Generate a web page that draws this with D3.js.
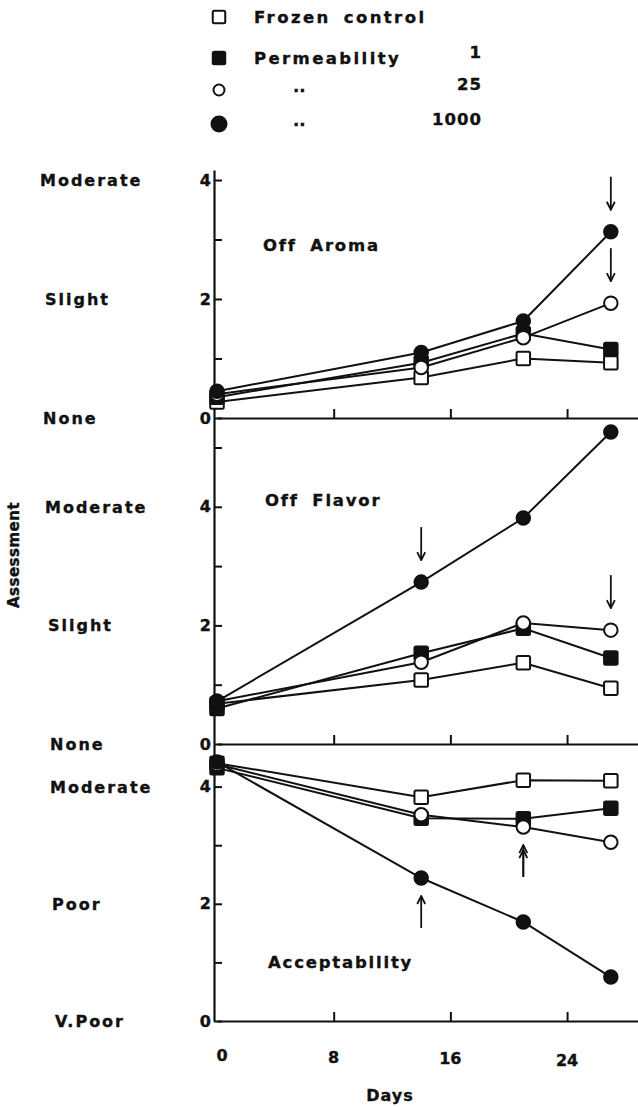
<!DOCTYPE html>
<html>
<head>
<meta charset="utf-8">
<script src="https://cdn.jsdelivr.net/npm/d3@7"></script>
<style>
  html, body { margin: 0; padding: 0; background: #fff; }
  svg { display: block; }
  text { font-family: "DejaVu Sans", sans-serif; font-weight: bold; fill: #111; stroke: #111; stroke-width: 0.35; }
</style>
</head>
<body>
<svg id="chart" width="638" height="1107"></svg>
<script>
// Storage days
const days = [0, 14, 21, 27];

// Off aroma scores
const aromaControl = [0.27, 0.68, 1.0, 0.93];
const aromaPerm1 = [0.35, 0.93, 1.42, 1.15];
const aromaPerm25 = [0.4, 0.85, 1.35, 1.93];
const aromaPerm1000 = [0.45, 1.1, 1.63, 3.13];

// Off flavor scores
const flavorControl = [0.68, 1.08, 1.37, 0.94];
const flavorPerm1 = [0.6, 1.53, 1.95, 1.45];
const flavorPerm25 = [0.72, 1.38, 2.04, 1.92];
const flavorPerm1000 = [0.72, 2.73, 3.81, 5.26];

// Acceptability scores
const acceptControl = [4.4, 3.82, 4.11, 4.1];
const acceptPerm1 = [4.32, 3.46, 3.45, 3.63];
const acceptPerm25 = [4.38, 3.52, 3.31, 3.05];
const acceptPerm1000 = [4.42, 2.44, 1.69, 0.75];

// Legend / series labels
const seriesNames = ["Frozen control", "Permeability", "..", ".."];
const seriesPerm = ["", "1", "25", "1000"];

// Axis labels
const xTicks = [0, 8, 16, 24];
const aromaLevels = ["None", "Slight", "Moderate"];
const flavorLevels = ["None", "Slight", "Moderate"];
const acceptLevels = ["V.Poor", "Poor", "Moderate"];
const levelValues = [0, 2, 4];

const svg = d3.select("#chart");
const ink = "#111";

const x = d3.scaleLinear().domain([0, 29]).range([217, 640]);

const markers = [
  { shape: "square", filled: false },
  { shape: "square", filled: true },
  { shape: "circle", filled: false },
  { shape: "circle", filled: true }
];

const panels = [
  { title: "Off Aroma", titleX: 263, titleY: 251, bottom: 418, top: 170, unit: 59.5,
    levels: aromaLevels, tickMax: 4,
    series: [aromaControl, aromaPerm1, aromaPerm25, aromaPerm1000],
    labelX: [43, 45, 40],
    arrows: [ { day: 27, s: 3, dir: "down" }, { day: 27, s: 2, dir: "down" } ] },
  { title: "Off Flavor", titleX: 265, titleY: 506, bottom: 744, top: 418, unit: 59.3,
    levels: flavorLevels, tickMax: 5,
    series: [flavorControl, flavorPerm1, flavorPerm25, flavorPerm1000],
    labelX: [50, 48, 45],
    arrows: [ { day: 14, s: 3, dir: "down" }, { day: 27, s: 2, dir: "down" } ] },
  { title: "Acceptability", titleX: 268, titleY: 968, bottom: 1021, top: 744, unit: 58.6,
    levels: acceptLevels, tickMax: 4,
    series: [acceptControl, acceptPerm1, acceptPerm25, acceptPerm1000],
    labelX: [55, 52, 50],
    arrows: [ { day: 14, s: 3, dir: "up" }, { day: 21, s: 2, dir: "up", double: true } ] }
];

// arrowhead markers
const defs = svg.append("defs");
defs.append("marker")
  .attr("id", "head")
  .attr("viewBox", "0 0 10 10")
  .attr("refX", 9).attr("refY", 5)
  .attr("markerWidth", 10).attr("markerHeight", 10)
  .attr("markerUnits", "userSpaceOnUse")
  .attr("orient", "auto")
  .append("path")
  .attr("d", "M1,1 L9,5 L1,9")
  .attr("fill", "none").attr("stroke", ink).attr("stroke-width", 1.8);

function drawMarker(g, cx, cy, m, size) {
  const fill = m.filled ? ink : "#fff";
  if (m.shape === "square") {
    g.append("rect")
      .attr("x", cx - size / 2).attr("y", cy - size / 2)
      .attr("width", size).attr("height", size)
      .attr("rx", 1.5)
      .attr("fill", fill).attr("stroke", ink).attr("stroke-width", 2);
  } else {
    g.append("circle")
      .attr("cx", cx).attr("cy", cy).attr("r", size / 2)
      .attr("fill", fill).attr("stroke", ink).attr("stroke-width", 2);
  }
}

panels.forEach(p => {
  const yMax = (p.bottom - p.top) / p.unit;
  const y = d3.scaleLinear().domain([0, yMax]).range([p.bottom, p.top]);
  const g = svg.append("g");

  // x axis with inward ticks
  const xAxis = d3.axisBottom(x).tickValues([8, 16, 24]).tickSizeInner(-9).tickSizeOuter(0).tickFormat("");
  const xa = g.append("g").attr("transform", `translate(0,${p.bottom})`).call(xAxis);
  xa.select(".domain").attr("stroke", ink).attr("stroke-width", 2.2);
  xa.selectAll(".tick line").attr("stroke", ink).attr("stroke-width", 2);

  // y axis with inward ticks
  const yTicks = d3.range(0, p.tickMax + 1);
  const yAxis = d3.axisLeft(y).tickValues(yTicks).tickSizeInner(-8).tickSizeOuter(0)
    .tickFormat(d => (d % 2 === 0 ? d : ""));
  const ya = g.append("g").attr("transform", `translate(${x(0) - 3},0)`).call(yAxis);
  ya.select(".domain").attr("stroke", ink).attr("stroke-width", 2.2);
  ya.selectAll(".tick line").attr("stroke", ink).attr("stroke-width", 2);
  ya.selectAll(".tick text")
    .attr("x", -3)
    .style("font-family", "DejaVu Sans, sans-serif")
    .style("font-weight", "bold")
    .style("font-size", "16px")
    .attr("fill", ink);

  // descriptive scale labels
  p.levels.forEach((lab, i) => {
    g.append("text")
      .attr("x", p.labelX[i])
      .attr("y", y(levelValues[i]) + 6)
      .attr("font-size", 16)
      .attr("letter-spacing", 2)
      .text(lab);
  });

  // panel title
  g.append("text")
    .attr("x", p.titleX).attr("y", p.titleY)
    .attr("font-size", 16.5)
    .attr("letter-spacing", 1.8)
    .attr("word-spacing", 6)
    .text(p.title);

  // lines
  const line = d3.line().x((d, i) => x(days[i])).y(d => y(d));
  p.series.forEach(vals => {
    g.append("path")
      .attr("d", line(vals))
      .attr("fill", "none").attr("stroke", ink).attr("stroke-width", 2);
  });

  // markers
  p.series.forEach((vals, si) => {
    vals.forEach((v, i) => drawMarker(g, x(days[i]), y(v), markers[si], 13.5));
  });

  // arrows marking points
  p.arrows.forEach(a => {
    const i = days.indexOf(a.day);
    const cx = x(a.day), cy = y(p.series[a.s][i]);
    let y1, y2;
    if (a.dir === "down") { y1 = cy - 55; y2 = cy - 22; }
    else { y1 = cy + 50; y2 = cy + 18; }
    g.append("line")
      .attr("x1", cx).attr("y1", y1).attr("x2", cx).attr("y2", y2)
      .attr("stroke", ink).attr("stroke-width", 1.8)
      .attr("marker-end", "url(#head)");
    if (a.double) {
      g.append("line")
        .attr("x1", cx).attr("y1", y1).attr("x2", cx).attr("y2", y2 + 5)
        .attr("stroke", ink).attr("stroke-width", 1.8)
        .attr("marker-end", "url(#head)");
    }
  });
});

// x tick labels
const xl = svg.append("g");
xTicks.forEach((t, i) => {
  xl.append("text")
    .attr("x", x(t) + (t === 0 ? 5 : 0))
    .attr("y", 1061 + i * 1.5)
    .attr("text-anchor", "middle")
    .attr("font-size", 16)
    .text(t);
});
svg.append("text")
  .attr("x", 390).attr("y", 1101)
  .attr("text-anchor", "middle")
  .attr("font-size", 16)
  .attr("letter-spacing", 1)
  .text("Days");

// y title
svg.append("text")
  .attr("transform", "translate(19,555) rotate(-90)")
  .attr("text-anchor", "middle")
  .attr("font-size", 15)
  .attr("letter-spacing", 0.5)
  .text("Assessment");

// legend
const legendY = [17, 58, 90, 124];
const leg = svg.append("g");
markers.forEach((m, i) => {
  drawMarker(leg, 219, legendY[i], m, m.shape === "circle" ? (m.filled ? 15 : 11) : 12.5);
  const nameX = i < 2 ? 254 : 293;
  leg.append("text")
    .attr("x", nameX).attr("y", legendY[i] + (i < 2 ? 6 : 2))
    .attr("font-size", 16.5)
    .attr("letter-spacing", i < 2 ? 2.4 : 0)
    .attr("word-spacing", 5)
    .text(seriesNames[i]);
  if (seriesPerm[i]) {
    leg.append("text")
      .attr("x", 482).attr("y", legendY[i] + (i === 3 ? 1 : 0))
      .attr("text-anchor", "end")
      .attr("font-size", 16.5)
      .attr("letter-spacing", 1)
      .text(seriesPerm[i]);
  }
});
</script>
</body>
</html>
